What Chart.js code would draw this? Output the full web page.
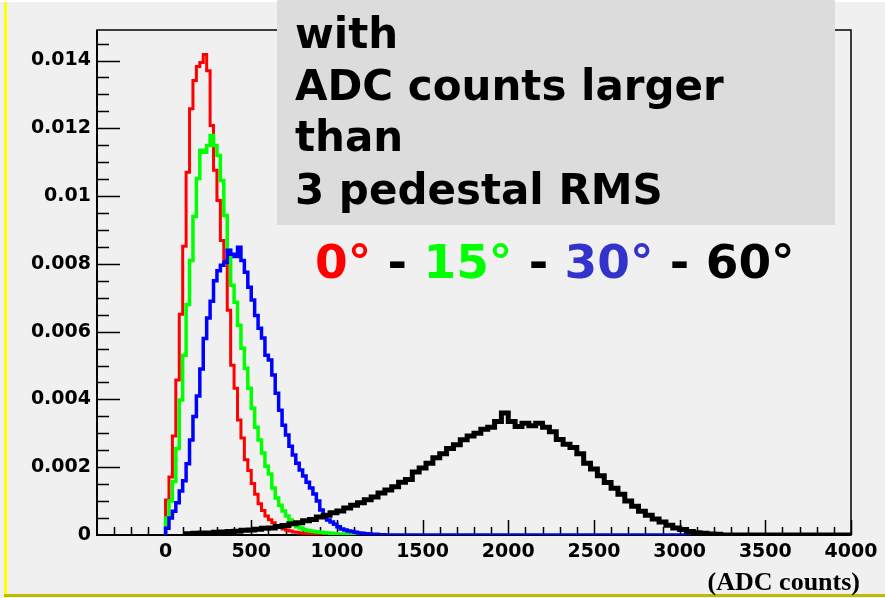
<!DOCTYPE html>
<html>
<head>
<meta charset="utf-8">
<script src="https://cdn.jsdelivr.net/npm/chart.js@4.4.1/dist/chart.umd.min.js"></script>
<style>
  html, body { margin: 0; padding: 0; background: #f0f0f0; }
  canvas { display: block; }
</style>
</head>
<body>
<canvas id="adcChart" width="885" height="598"></canvas>
<script>
// 0, 15 and 30 degree runs: 20-count bins starting at 0
const smallBinStart = 0;
const smallBinWidth = 20;

const red0 = [
  0.00103, 0.00171, 0.00292, 0.00457, 0.00651, 0.00852, 0.01070, 0.01258, 0.01341, 0.01382,
  0.01394, 0.01418, 0.01370, 0.01208, 0.01076, 0.00987, 0.00869, 0.00810, 0.00663, 0.00501,
  0.00433, 0.00339, 0.00286, 0.00222, 0.00190, 0.00152, 0.00120, 0.00092, 0.00072, 0.00056,
  0.00045, 0.00036, 0.00028, 0.00022, 0.00018, 0.00015, 0.00012, 0.00009, 0.00008, 0.00006,
  0.00005, 0.00004, 0.00003, 0.00002, 0.00002, 0.00001
];

const green15 = [
  0.00050, 0.00100, 0.00158, 0.00255, 0.00398, 0.00530, 0.00680, 0.00810, 0.00940, 0.01052,
  0.01135, 0.01129, 0.01149, 0.01179, 0.01149, 0.01120, 0.01046, 0.00943, 0.00840, 0.00737,
  0.00687, 0.00619, 0.00551, 0.00492, 0.00433, 0.00374, 0.00318, 0.00280, 0.00242, 0.00203,
  0.00180, 0.00139, 0.00109, 0.00088, 0.00071, 0.00056, 0.00044, 0.00032, 0.00024, 0.00021,
  0.00016, 0.00013, 0.00012, 0.00010, 0.00009, 0.00008, 0.00007, 0.00006, 0.00005, 0.00004,
  0.00003, 0.00003, 0.00003, 0.00002, 0.00002, 0.00002, 0.00001, 0.00001, 0.00001, 0.00001
];

const blue30 = [
  0.00020, 0.00050, 0.00070, 0.00095, 0.00130, 0.00160, 0.00210, 0.00280, 0.00350, 0.00410,
  0.00490, 0.00580, 0.00640, 0.00690, 0.00750, 0.00780, 0.00796, 0.00805, 0.00840, 0.00828,
  0.00822, 0.00849, 0.00810, 0.00775, 0.00731, 0.00693, 0.00648, 0.00610, 0.00581, 0.00530,
  0.00516, 0.00472, 0.00418, 0.00368, 0.00324, 0.00295, 0.00262, 0.00236, 0.00212, 0.00192,
  0.00174, 0.00156, 0.00139, 0.00121, 0.00100, 0.00074, 0.00056, 0.00044, 0.00038, 0.00032,
  0.00024, 0.00018, 0.00015, 0.00012, 0.00010, 0.00008, 0.00006, 0.00005, 0.00004, 0.00003,
  0.00002, 0.00002, 0.00001, 0.00001
];
const blueZeroUntil = 3160;

// 60 degree run: 40-count bins starting at 120
const blackBinStart = 120;
const blackBinWidth = 40;
const black60 = [
  0.00004, 0.00005, 0.00006, 0.00006, 0.00008, 0.00009, 0.00010, 0.00011, 0.00014, 0.00015,
  0.00017, 0.00020, 0.00021, 0.00025, 0.00028, 0.00033, 0.00036, 0.00042, 0.00046, 0.00053,
  0.00058, 0.00066, 0.00071, 0.00080, 0.00088, 0.00095, 0.00104, 0.00112, 0.00124, 0.00133,
  0.00142, 0.00156, 0.00164, 0.00186, 0.00198, 0.00212, 0.00228, 0.00240, 0.00255, 0.00266,
  0.00281, 0.00292, 0.00300, 0.00312, 0.00318, 0.00335, 0.00360, 0.00335, 0.00320, 0.00330,
  0.00322, 0.00330, 0.00318, 0.00305, 0.00282, 0.00268, 0.00258, 0.00240, 0.00212, 0.00195,
  0.00175, 0.00155, 0.00138, 0.00120, 0.00100, 0.00085, 0.00070, 0.00058, 0.00047, 0.00038,
  0.00029, 0.00021, 0.00016, 0.00010, 0.00007, 0.00005, 0.00003, 0.00002
];
const blackZeroUntil = 4000;

const xTicks = [0, 500, 1000, 1500, 2000, 2500, 3000, 3500, 4000];
const yTicks = [0, 0.002, 0.004, 0.006, 0.008, 0.01, 0.012, 0.014];
const yTickLabels = ["0", "0.002", "0.004", "0.006", "0.008", "0.01", "0.012", "0.014"];

const boxLines = ["with", "ADC counts larger", "than", "3 pedestal RMS"];
const angleLabels = ["0°", "15°", "30°", "60°"];
const xTitle = "(ADC counts)";

// bin contents -> step points (rise at first edge, drop after last bin)
const toSteps = (values, start, width, zeroUntil) => {
  const pts = [{ x: start, y: 0 }];
  values.forEach((v, i) => pts.push({ x: start + i * width, y: v }));
  const end = start + values.length * width;
  pts.push({ x: end, y: 0 });
  if (zeroUntil && zeroUntil > end) pts.push({ x: zeroUntil, y: 0 });
  return pts;
};

const histo = (data, color, width) => ({
  data,
  borderColor: color,
  borderWidth: width,
  stepped: "before",
  pointRadius: 0,
  fill: false,
  borderJoinStyle: "miter",
});

const canvasBackdrop = {
  id: "canvasBackdrop",
  beforeDraw(chart) {
    const { ctx, width, height } = chart;
    ctx.save();
    ctx.fillStyle = "#f0f0f0";
    ctx.fillRect(0, 0, width, height);
    ctx.fillStyle = "#ffffff";
    ctx.fillRect(0, 0, width, 2);
    ctx.fillStyle = "#ffff00";
    ctx.fillRect(4, 2, 3, height - 2);
    ctx.fillStyle = "#bcbc00";
    ctx.fillRect(4, 594, width - 4, 3);
    ctx.restore();
  },
};

const frameTicks = {
  id: "frameTicks",
  beforeDatasetsDraw(chart) {
    const { ctx, chartArea: a } = chart;
    const x = chart.scales.x;
    const y = chart.scales.y;
    ctx.save();
    ctx.strokeStyle = "#000";
    ctx.lineWidth = 1.5;
    ctx.strokeRect(a.left, a.top, a.right - a.left, a.bottom - a.top);
    ctx.lineWidth = 2;
    ctx.beginPath();
    ctx.moveTo(a.left, a.top);
    ctx.lineTo(a.left, a.bottom);
    ctx.lineTo(a.right, a.bottom);
    ctx.stroke();

    ctx.lineWidth = 1.5;
    ctx.beginPath();
    for (let i = -3; i <= 40; i++) {
      const px = Math.round(x.getPixelForValue(i * 100)) + 0.5;
      const len = i % 5 === 0 ? 15 : 8;
      ctx.moveTo(px, a.bottom);
      ctx.lineTo(px, a.bottom - len);
    }
    for (let i = 1; i * 0.0005 <= y.max; i++) {
      const py = Math.round(y.getPixelForValue(i * 0.0005)) + 0.5;
      const len = i % 4 === 0 ? 23 : 12;
      ctx.moveTo(a.left, py);
      ctx.lineTo(a.left + len, py);
    }
    ctx.stroke();
    ctx.restore();
  },
};

const textOverlay = {
  id: "textOverlay",
  afterDraw(chart) {
    const { ctx } = chart;
    ctx.save();
    ctx.fillStyle = "#dcdcdc";
    ctx.fillRect(277, 0, 558, 225);

    ctx.fillStyle = "#000";
    ctx.font = "bold 42px 'DejaVu Sans'";
    ctx.textAlign = "left";
    ctx.textBaseline = "alphabetic";
    const baselines = [48, 100, 151, 204];
    boxLines.forEach((t, i) => ctx.fillText(t, 295, baselines[i]));

    ctx.font = "bold 47px 'DejaVu Sans'";
    const colors = ["#ff0000", "#00ff00", "#3333cc", "#000000"];
    let cx = 315;
    angleLabels.forEach((t, i) => {
      ctx.fillStyle = colors[i];
      ctx.fillText(t, cx, 278);
      cx += ctx.measureText(t).width;
      if (i < angleLabels.length - 1) {
        ctx.fillStyle = "#000";
        ctx.fillText(" - ", cx, 278);
        cx += ctx.measureText(" - ").width;
      }
    });

    ctx.font = "bold 26px 'Liberation Serif'";
    ctx.textAlign = "right";
    ctx.fillStyle = "#000";
    ctx.fillText(xTitle, 860, 590);
    ctx.restore();
  },
};

const tickFont = { family: "DejaVu Sans", size: 19, weight: "bold" };

new Chart(document.getElementById("adcChart"), {
  type: "line",
  data: {
    datasets: [
      histo(toSteps(black60, blackBinStart, blackBinWidth, blackZeroUntil), "#000000", 5),
      histo(toSteps(blue30, smallBinStart, smallBinWidth, blueZeroUntil), "#0000ff", 3.5),
      histo(toSteps(green15, smallBinStart, smallBinWidth), "#00ff00", 3.5),
      histo(toSteps(red0, smallBinStart, smallBinWidth), "#ff0000", 3),
    ],
  },
  options: {
    responsive: false,
    devicePixelRatio: 1,
    animation: false,
    layout: { padding: { top: 30, right: 34, left: 0, bottom: 0 } },
    plugins: {
      legend: { display: false },
      tooltip: { enabled: false },
    },
    scales: {
      x: {
        type: "linear",
        min: -400,
        max: 4000,
        grid: { display: false, drawTicks: false, tickLength: 0 },
        border: { display: false },
        afterBuildTicks: (scale) => { scale.ticks = xTicks.map((value) => ({ value })); },
        afterFit: (scale) => { scale.height = 63; },
        ticks: {
          autoSkip: false,
          maxRotation: 0,
          padding: 6,
          color: "#000",
          font: tickFont,
          callback: (value) => String(value),
        },
      },
      y: {
        min: 0,
        max: 0.0149,
        grid: { display: false, drawTicks: false, tickLength: 0 },
        border: { display: false },
        afterBuildTicks: (scale) => { scale.ticks = yTicks.map((value) => ({ value })); },
        afterFit: (scale) => { scale.width = 97; },
        ticks: {
          autoSkip: false,
          padding: 6,
          color: "#000",
          font: tickFont,
          callback: (value, index) => yTickLabels[index],
        },
      },
    },
  },
  plugins: [canvasBackdrop, frameTicks, textOverlay],
});
</script>
</body>
</html>
